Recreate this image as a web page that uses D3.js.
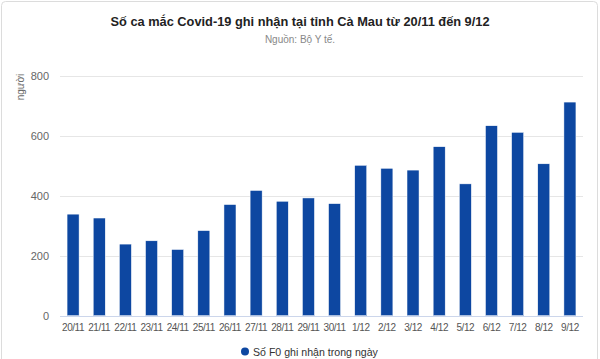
<!DOCTYPE html>
<html><head><meta charset="utf-8">
<script src="https://cdn.jsdelivr.net/npm/d3@7"></script>
<style>body{margin:0;background:#fff;}svg{display:block;}</style>
</head><body>
<svg id="c" width="600" height="359"></svg>
<script>
const categories = ["20/11","21/11","22/11","23/11","24/11","25/11","26/11","27/11","28/11","29/11","30/11","1/12","2/12","3/12","4/12","5/12","6/12","7/12","8/12","9/12"];
const values = [339,326,239,250,221,284,371,418,382,393,374,502,492,486,564,440,634,612,507,713];
const yTicks = [0,200,400,600,800];
const titleText = "Số ca mắc Covid-19 ghi nhận tại tỉnh Cà Mau từ 20/11 đến 9/12";
const subtitleText = "Nguồn: Bộ Y tế.";
const yAxisTitle = "người";
const seriesName = "Số F0 ghi nhận trong ngày";

const svg = d3.select("#c");
svg.append("rect").attr("x",1.5).attr("y",1.5).attr("width",596).attr("height",370)
  .attr("rx",4).attr("fill","#fff").attr("stroke","#dcdcdc");

const x = d3.scaleBand().domain(categories).range([60,583]).paddingInner(0.54).paddingOuter(0.27);
const y = d3.scaleLinear().domain([0,800]).range([315.7,76]);

// grid
svg.append("g").selectAll("line").data(yTicks.filter(d=>d>0)).join("line")
  .attr("x1",60).attr("x2",583).attr("y1",d=>Math.round(y(d))+0.5).attr("y2",d=>Math.round(y(d))+0.5)
  .attr("stroke","#e6e6e6");

// y labels
svg.append("g").selectAll("text").data(yTicks).join("text")
  .attr("x",49).attr("y",d=>y(d)+4).attr("text-anchor","end")
  .attr("font-family","Liberation Sans, Arial, sans-serif").attr("font-size",11).attr("fill","#666")
  .text(d=>d);

// y axis title
svg.append("text").attr("transform","translate(24,87) rotate(-90)").attr("text-anchor","middle")
  .attr("font-family","Liberation Sans, Arial, sans-serif").attr("font-size",10).attr("fill","#666")
  .text(yAxisTitle);

// bars
svg.append("g").selectAll("rect").data(values).join("rect")
  .attr("x",(d,i)=>x(categories[i])).attr("width",x.bandwidth())
  .attr("y",d=>y(d)).attr("height",d=>y(0)-y(d))
  .attr("fill","#0d47a1").attr("stroke","#fff").attr("stroke-width",0.5);

// x axis line
svg.append("line").attr("x1",60).attr("x2",583).attr("y1",316.5).attr("y2",316.5).attr("stroke","#ccd6eb");

// x labels
svg.append("g").selectAll("text").data(categories).join("text")
  .attr("x",d=>x(d)+x.bandwidth()/2).attr("y",331).attr("text-anchor","middle")
  .attr("font-family","Liberation Sans, Arial, sans-serif").attr("font-size",10).attr("letter-spacing",-0.45).attr("fill","#555")
  .text(d=>d);

// title
svg.append("text").attr("x",300).attr("y",25.5).attr("text-anchor","middle")
  .attr("font-family","Liberation Sans, Arial, sans-serif").attr("font-size",12.8).attr("font-weight","bold").attr("fill","#222")
  .text(titleText);
svg.append("text").attr("x",300).attr("y",43).attr("text-anchor","middle")
  .attr("font-family","Liberation Sans, Arial, sans-serif").attr("font-size",10).attr("fill","#888")
  .text(subtitleText);

// legend
const lg = svg.append("g");
lg.append("circle").attr("cx",245).attr("cy",351.5).attr("r",4).attr("fill","#0d47a1");
lg.append("text").attr("x",253).attr("y",355.5).attr("font-family","Liberation Sans, Arial, sans-serif").attr("font-size",10.6).attr("fill","#333")
  .text(seriesName);
</script>
</body></html>
